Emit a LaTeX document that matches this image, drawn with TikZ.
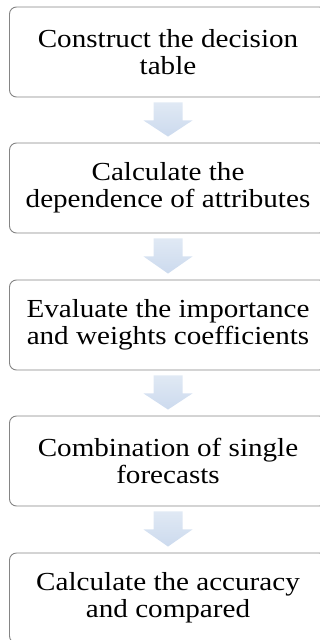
\documentclass[tikz,border=0pt]{standalone}
\usepackage{fontspec}
\setmainfont{Liberation Serif}[FakeStretch=1.12]
\usetikzlibrary{calc}
\definecolor{boxline}{HTML}{858585}
\definecolor{arrtop}{HTML}{E0E9F4}
\definecolor{arrbot}{HTML}{CCDAEE}
\tikzset{
  stepbox/.style={draw=boxline, line width=0.9pt, rounded corners=7pt, fill=white,
    minimum width=317pt, minimum height=90pt, align=center, inner sep=0pt,
    font=\fontsize{26}{27}\selectfont},
  arrfill/.style={top color=arrtop, bottom color=arrbot, draw=none}
}
\begin{document}
\begin{tikzpicture}[x=1pt,y=-1pt]
\useasboundingbox (0,0) rectangle (320,640);
\node[stepbox] (b1) at (168,52) {Construct the decision\\table};
\node[stepbox] (b2) at (168,188) {Calculate the\\dependence of attributes};
\node[stepbox] (b3) at (168,325) {Evaluate the importance\\and weights coefficients};
\node[stepbox] (b4) at (168,461) {Combination of single\\forecasts};
\node[stepbox] (b5) at (168,598) {Calculate the accuracy\\and compared};
\foreach \a/\b in {b1/b2,b2/b3,b3/b4,b4/b5}{
  \shade[arrfill] ($(\a.south)+(-14.5,5)$) -- ($(\a.south)+(14.5,5)$)
    -- ($(\a.south)+(14.5,23)$) -- ($(\a.south)+(24.5,23)$)
    -- ($(\b.north)+(0,-6)$)
    -- ($(\a.south)+(-24.5,23)$) -- ($(\a.south)+(-14.5,23)$) -- cycle;
}
\end{tikzpicture}
\end{document}
